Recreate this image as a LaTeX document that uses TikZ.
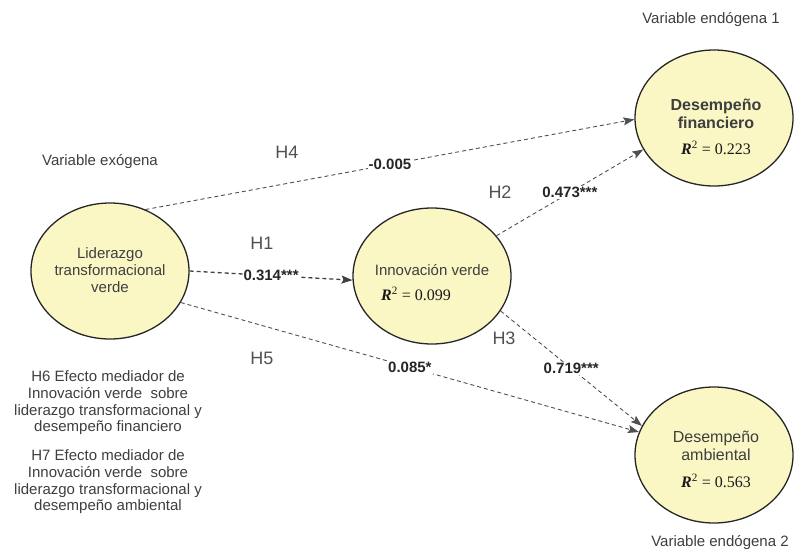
\documentclass[tikz,border=0pt]{standalone}
\usepackage{fontspec}
\setmainfont{Liberation Sans}
\newfontfamily\rfont{Liberation Serif}
\usetikzlibrary{shapes.geometric,arrows.meta}
\definecolor{circfill}{RGB}{250,247,197}
\definecolor{txtc}{RGB}{62,62,62}
\definecolor{linc}{RGB}{80,80,80}
\newcommand{\rsq}[1]{{\rfont\textbf{\textit{R}}\textsuperscript{2} = #1}}
\begin{document}
\begin{tikzpicture}[x=1pt,y=-1pt,
  latent/.style={ellipse,draw=black!85,line width=1.3pt,fill=circfill,minimum width=158pt,minimum height=136pt,inner sep=0pt},
  txt/.style={text=txtc,font=\fontsize{15}{17}\selectfont,align=center,inner sep=0pt},
  blk/.style={text=txtc,font=\fontsize{15}{16.7}\selectfont,align=center,inner sep=0pt},
  rtxt/.style={text=black!90,font=\fontsize{16}{18}\selectfont,inner sep=0pt},
  hyp/.style={text=txtc!90,font=\fontsize{18}{20}\selectfont,inner sep=0pt},
  coef/.style={fill=white,inner sep=1pt,text=black!85,font=\bfseries\fontsize{15}{17}\selectfont},
  conn/.style={draw=linc,line width=0.9pt,dash pattern=on 4pt off 3pt,-{Stealth[length=11pt,width=8pt,inset=2pt]}}
]
\useasboundingbox (0,0) rectangle (795,555);

% latent variables
\node[latent] (lid) at (110,271) {};
\node[latent] (inn) at (432,276) {};
\node[latent] (fin) at (714,118) {};
\node[latent] (amb) at (714,455) {};

% texts inside
\node[txt] (lidT) at (110,270) {Liderazgo\\transformacional\\verde};
\node[txt] (innT) at (432,270) {Innovación verde};
\node[rtxt] (innR) at (416,294) {\rsq{0.099}};
\node[txt,font=\bfseries\fontsize{16}{18}\selectfont] (finT) at (716,114) {Desempeño\\financiero};
\node[rtxt] (finR) at (716,148) {\rsq{0.223}};
\node[txt,font=\fontsize{16}{18}\selectfont] (ambT) at (716,446) {Desempeño\\ambiental};
\node[rtxt] (ambR) at (716,481) {\rsq{0.563}};

% outer labels
\node[txt] (ve1) at (711,20) {Variable endógena 1};
\node[txt] (ve2) at (720,543) {Variable endógena 2};
\node[txt] (vex) at (100,162) {Variable exógena};
\node[blk] (h6) at (108,403) {H6 Efecto mediador de\\Innovación verde \ sobre\\liderazgo transformacional y\\desempeño financiero};
\node[blk] (h7) at (108,482) {H7 Efecto mediador de\\Innovación verde \ sobre\\liderazgo transformacional y\\desempeño ambiental};

% hypothesis labels
\node[hyp] (hA) at (262,243) {H1};
\node[hyp] (hB) at (500,192) {H2};
\node[hyp] (hC) at (504,338) {H3};
\node[hyp] (hD) at (287,152) {H4};
\node[hyp] (hE) at (262,358) {H5};

% connectors
\draw[conn] (lid.60) -- node[coef] (cD) {-0.005} (fin.181);
\draw[conn,line width=1.3pt,draw=black!75] (lid.east) -- node[coef] (cA) {0.314***} (inn.183);
\draw[conn] (lid.-24) -- node[coef] (cE) {0.085*} (amb.163);
\draw[conn] (inn.32) -- node[coef] (cB) {0.473***} (fin.204);
\draw[conn] (inn.-27) -- node[coef] (cC) {0.719***} (amb.158);
\end{tikzpicture}
\end{document}
